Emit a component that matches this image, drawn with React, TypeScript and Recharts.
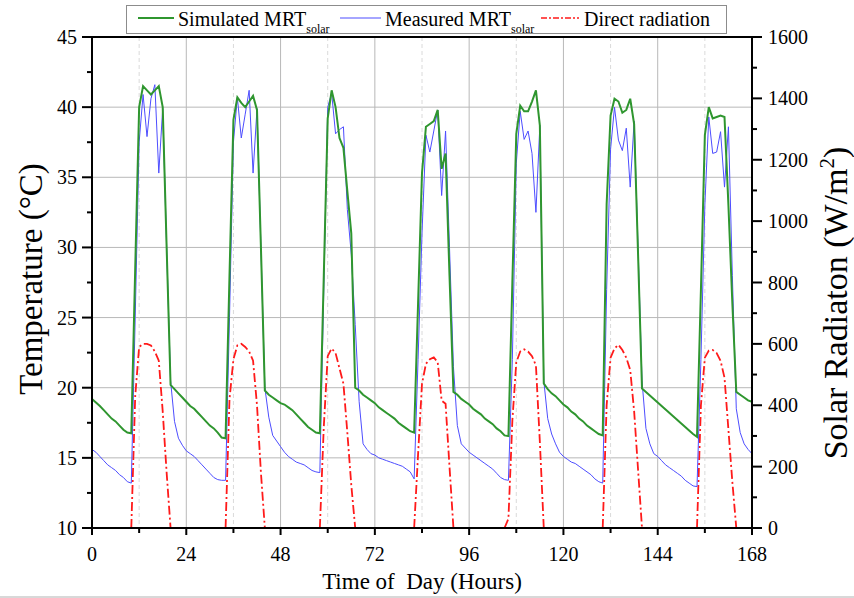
import { LineChart, Line, XAxis, YAxis, CartesianGrid, ReferenceLine } from "recharts";

// hourly samples over one week (0..168 h)
const hours = Array.from({ length: 169 }, (_, i) => i);

// simulated MRT_solar (°C)
const simulated = [
  19.2, 18.95, 18.7, 18.4, 18.1, 17.8, 17.6, 17.3, 17.0, 16.8, 16.75,
  28.5, 40.0, 41.5, 41.2, 40.9, 41.2, 41.5, 40.0, 30.0, 20.2,
  19.9, 19.6, 19.3, 19.0, 18.7, 18.5, 18.2, 17.9, 17.6, 17.3, 17.1, 16.8, 16.45, 16.4,
  28.0, 39.1, 40.7, 40.3, 40.0, 40.4, 40.8, 39.8, 30.0, 19.8,
  19.5, 19.3, 19.1, 18.9, 18.8, 18.6, 18.4, 18.1, 17.8, 17.5, 17.2, 17.0, 16.8, 16.75,
  28.0, 39.2, 41.2, 40.0, 37.8, 37.1, 34.0, 31.0, 20.0,
  19.8, 19.5, 19.3, 19.1, 18.9, 18.6, 18.4, 18.2, 18.0, 17.8, 17.5, 17.3, 17.1, 16.9, 16.8,
  26.0, 35.3, 38.6, 38.8, 39.0, 39.8, 35.6, 36.7, 28.0, 19.7,
  19.5, 19.2, 19.0, 18.8, 18.5, 18.3, 18.1, 17.8, 17.6, 17.4, 17.1, 16.9, 16.6, 16.55,
  27.5, 38.1, 40.1, 39.7, 39.7, 40.4, 41.2, 38.7, 20.3,
  19.9, 19.6, 19.4, 19.1, 18.8, 18.6, 18.3, 18.1, 17.8, 17.6, 17.3, 17.1, 16.9, 16.7, 16.6,
  33.1, 39.4, 40.6, 40.4, 39.6, 39.8, 40.6, 38.8, 29.5, 19.95,
  19.7, 19.45, 19.2, 18.95, 18.7, 18.45, 18.2, 17.95, 17.7, 17.45, 17.2, 16.95, 16.7, 16.5,
  27.0, 38.0, 40.0, 39.2, 39.3, 39.4, 39.3, 33.0, 26.0, 19.7,
  19.5, 19.3, 19.1, 19.0,
];

// measured MRT_solar (°C)
const measured = [
  15.6, 15.4, 15.1, 14.8, 14.5, 14.3, 14.1, 13.8, 13.6, 13.3, 13.2,
  25.0, 37.5, 40.9, 37.9, 40.6, 41.6, 35.3, 39.9, 30.0, 20.5,
  17.6, 16.4, 15.9, 15.5, 15.3, 15.1, 14.8, 14.5, 14.2, 13.9, 13.6, 13.45, 13.4, 13.4,
  25.0, 37.5, 40.7, 37.8, 39.5, 41.2, 35.3, 39.9, 30.0, 20.0,
  17.9, 16.6, 16.2, 15.8, 15.4, 15.1, 14.9, 14.7, 14.6, 14.5, 14.3, 14.1, 14.0, 13.95,
  27.0, 40.0, 41.0, 38.1, 38.4, 38.6, 32.7, 29.5, 24.5,
  19.0, 16.0, 15.6, 15.3, 15.2, 15.0, 14.9, 14.8, 14.7, 14.6, 14.5, 14.4, 14.2, 14.0, 13.5,
  22.0, 31.0, 38.0, 36.8, 38.3, 39.8, 33.7, 38.3, 30.0, 21.5,
  17.3, 16.0, 15.7, 15.4, 15.2, 15.0, 14.8, 14.6, 14.4, 14.2, 13.9, 13.6, 13.45, 13.4,
  22.0, 36.0, 39.7, 37.7, 38.3, 36.7, 32.5, 38.7, 20.5,
  17.8, 16.7, 16.0, 15.4, 15.1, 14.9, 14.7, 14.6, 14.4, 14.2, 14.0, 13.8, 13.5, 13.3, 13.2,
  27.0, 37.0, 40.0, 37.65, 36.9, 38.5, 34.3, 39.0, 30.0, 20.5,
  17.1, 16.0, 15.3, 15.1, 14.8, 14.5, 14.3, 14.1, 13.9, 13.7, 13.4, 13.2, 13.0, 12.95,
  22.0, 33.0, 39.3, 36.7, 36.8, 38.25, 34.3, 38.6, 28.0, 18.5,
  16.8, 16.0, 15.6, 15.3,
];

// direct radiation (W/m2), no value during the night
const radiation = [
  null, null, null, null, null, null, null, null, null, null,
  0, 430, 590, 600, 600, 595, 575, 545, 380, 180, 0,
  null, null, null, null, null, null, null, null, null, null, null, null, null,
  0, 420, 550, 595, 600, 590, 575, 545, 400, 180, 0,
  null, null, null, null, null, null, null, null, null, null, null, null, null,
  0, 330, 560, 585, 570, 520, 470, 310, 140, 0,
  null, null, null, null, null, null, null, null, null, null, null, null, null, null,
  0, 240, 470, 535, 550, 556, 540, 415, 405, 200, 0,
  null, null, null, null, null, null, null, null, null, null, null, null,
  0, 30, 350, 540, 575, 582, 575, 560, 530, 280, 0,
  null, null, null, null, null, null, null, null, null, null, null, null, null, null,
  0, 400, 555, 585, 597, 580, 555, 515, 380, 190, 0,
  null, null, null, null, null, null, null, null, null, null, null, null, null,
  0, 400, 555, 578, 580, 570, 545, 490, 320, 150, 0,
  null, null, null, null,
];

const xTicks = [0, 12, 24, 36, 48, 60, 72, 84, 96, 108, 120, 132, 144, 156, 168];
const tempTicks = [10, 12.5, 15, 17.5, 20, 22.5, 25, 27.5, 30, 32.5, 35, 37.5, 40, 42.5, 45];
const radTicks = [0, 100, 200, 300, 400, 500, 600, 700, 800, 900, 1000, 1100, 1200, 1300, 1400, 1500, 1600];
const dayLines = [24, 48, 72, 96, 120, 144];
const noonLines = [12, 36, 60, 84, 108, 132, 156];
const tempLines = [15, 20, 25, 30, 35, 40];

const data = hours.map((h, i) => ({
  hour: h,
  simulated: simulated[i],
  measured: measured[i],
  radiation: radiation[i],
}));

const SERIF = '"Liberation Serif", "Times New Roman", serif';
const GREEN = "#2f962f";
const BLUE = "#4d4dff";
const RED = "#ff1a1a";
const TICK_FONT = 20;

function BottomTick({ x, y, payload }: any) {
  const major = payload.value % 24 === 0;
  return (
    <g>
      <line x1={x} x2={x} y1={y} y2={y + (major ? 7 : 5)} stroke="#000" strokeWidth={2} />
      {major && (
        <text x={x} y={y + 26} dy="0.35em" textAnchor="middle" fontSize={TICK_FONT} fontFamily={SERIF} fill="#000">
          {payload.value}
        </text>
      )}
    </g>
  );
}

function LeftTick({ x, y, payload }: any) {
  const major = payload.value % 5 === 0;
  return (
    <g>
      <line x1={x - (major ? 10 : 5)} x2={x} y1={y} y2={y} stroke="#000" strokeWidth={2} />
      {major && (
        <text x={x - 15} y={y} dy="0.35em" textAnchor="end" fontSize={TICK_FONT} fontFamily={SERIF} fill="#000">
          {payload.value}
        </text>
      )}
    </g>
  );
}

function RightTick({ x, y, payload }: any) {
  const major = payload.value % 200 === 0;
  return (
    <g>
      <line x1={x} x2={x + (major ? 10 : 5)} y1={y} y2={y} stroke="#000" strokeWidth={2} />
      {major && (
        <text x={x + 16} y={y} dy="0.35em" textAnchor="start" fontSize={TICK_FONT} fontFamily={SERIF} fill="#000">
          {payload.value}
        </text>
      )}
    </g>
  );
}

function TimeTitle({ viewBox }: any) {
  const cx = viewBox.x + viewBox.width / 2;
  return (
    <text x={cx} y={viewBox.y + 53} dy="0.35em" textAnchor="middle" fontSize={23} fontFamily={SERIF} fill="#000" style={{ whiteSpace: "pre" }}>
      {"Time of  Day (Hours)"}
    </text>
  );
}

function TempTitle({ viewBox }: any) {
  const cx = viewBox.x + 30;
  const cy = 279;
  return (
    <text x={cx} y={cy} dy="0.35em" transform={`rotate(-90 ${cx} ${cy})`} textAnchor="middle" fontSize={33} fontFamily={SERIF} fill="#000">
      Temperature (°C)
    </text>
  );
}

function RadTitle({ viewBox }: any) {
  const cx = viewBox.x + 83;
  const cy = 303;
  return (
    <text x={cx} y={cy} dy="0.35em" transform={`rotate(-90 ${cx} ${cy})`} textAnchor="middle" fontSize={34} fontFamily={SERIF} fill="#000">
      Solar Radiaton (W/m
      <tspan dy={-13} fontSize={21}>2</tspan>
      <tspan dy={13}>)</tspan>
    </text>
  );
}

function LegendBox() {
  const txt = { position: "absolute" as const, top: 2, fontSize: 20, fontFamily: SERIF, whiteSpace: "nowrap" as const };
  const sub = { fontSize: 12, verticalAlign: "-7px" };
  return (
    <div
      style={{
        position: "absolute",
        left: 126,
        top: 5,
        width: 601,
        height: 29,
        boxSizing: "border-box",
        border: "1px solid #8c8c8c",
        background: "#fff",
      }}
    >
      <svg style={{ position: "absolute", left: 0, top: 0 }} width={601} height={29}>
        <line x1={11} x2={47} y1={12} y2={12} stroke={GREEN} strokeWidth={2} />
        <line x1={213} x2={254} y1={12} y2={12} stroke={BLUE} strokeWidth={1} />
        <line x1={414} x2={452} y1={12} y2={12} stroke={RED} strokeWidth={1.5} strokeDasharray="6 2 2 2" />
      </svg>
      <span style={{ ...txt, left: 51 }}>
        Simulated MRT<span style={sub}>solar</span>
      </span>
      <span style={{ ...txt, left: 258 }}>
        Measured MRT<span style={sub}>solar</span>
      </span>
      <span style={{ ...txt, left: 457 }}>Direct radiation</span>
    </div>
  );
}

export default function App() {
  return (
    <div style={{ position: "absolute", left: 0, top: 0, width: 854, height: 598, background: "#fff" }}>
      <LineChart width={854} height={598} data={data} margin={{ top: 37, right: 0, bottom: 0, left: 0 }}>
        <CartesianGrid xAxisId={0} yAxisId="t" stroke="#b8b8b8" verticalValues={dayLines} horizontalValues={tempLines} />
        <CartesianGrid xAxisId={0} yAxisId="t" stroke="#dadada" strokeDasharray="4 3" horizontal={false} verticalValues={noonLines} />
        <XAxis
          xAxisId={0}
          dataKey="hour"
          type="number"
          domain={[0, 168]}
          ticks={xTicks}
          interval={0}
          height={70}
          tickSize={0}
          tickMargin={0}
          tick={BottomTick}
          axisLine={{ stroke: "#000", strokeWidth: 2 }}
          label={TimeTitle}
        />
        <YAxis
          yAxisId="t"
          type="number"
          domain={[10, 45]}
          ticks={tempTicks}
          interval={0}
          width={92}
          tickSize={0}
          tickMargin={0}
          tick={LeftTick}
          axisLine={{ stroke: "#000", strokeWidth: 2 }}
          allowDataOverflow
          label={TempTitle}
        />
        <YAxis
          yAxisId="r"
          orientation="right"
          type="number"
          domain={[0, 1600]}
          ticks={radTicks}
          interval={0}
          width={102}
          tickSize={0}
          tickMargin={0}
          tick={RightTick}
          axisLine={{ stroke: "#000", strokeWidth: 2 }}
          allowDataOverflow
          label={RadTitle}
        />
        <ReferenceLine xAxisId={0} yAxisId="t" y={45} stroke="#000" strokeWidth={2} />
        <Line xAxisId={0} yAxisId="r" dataKey="radiation" type="linear" stroke={RED} strokeWidth={1.8} strokeDasharray="9 3 2 3" dot={false} isAnimationActive={false} />
        <Line xAxisId={0} yAxisId="t" dataKey="measured" type="linear" stroke={BLUE} strokeWidth={1} dot={false} isAnimationActive={false} />
        <Line xAxisId={0} yAxisId="t" dataKey="simulated" type="linear" stroke={GREEN} strokeWidth={2} dot={false} isAnimationActive={false} />
      </LineChart>
      <LegendBox />
      <div style={{ position: "absolute", left: 0, top: 596, width: 854, height: 2, background: "#d8d8d8" }} />
    </div>
  );
}
